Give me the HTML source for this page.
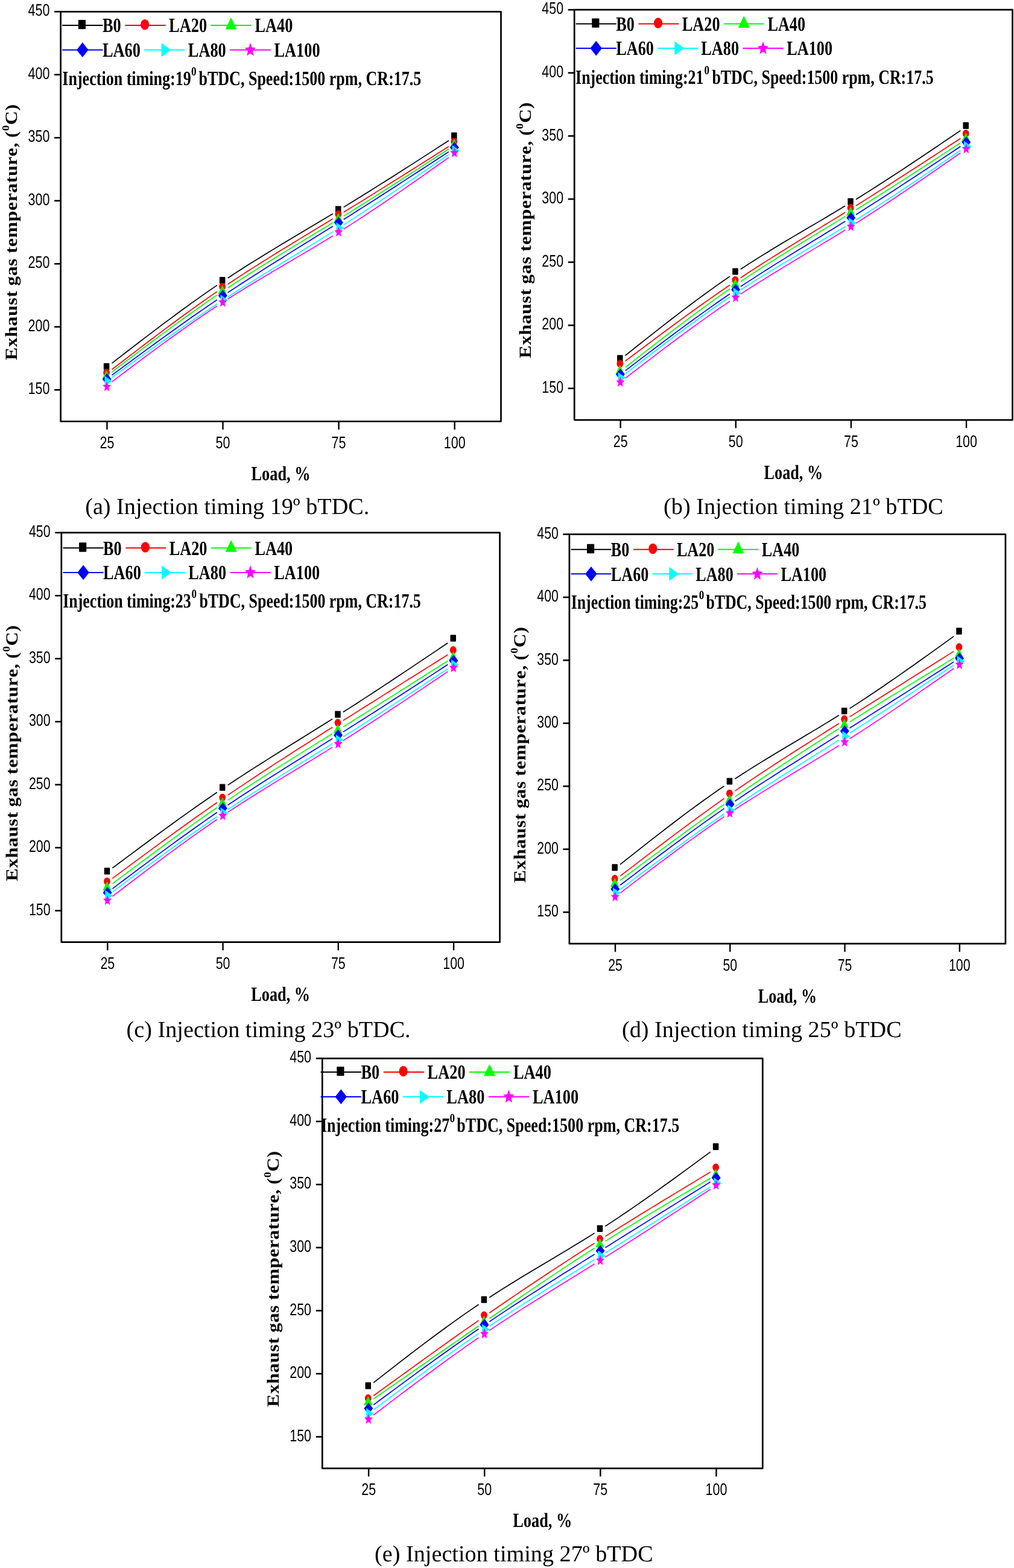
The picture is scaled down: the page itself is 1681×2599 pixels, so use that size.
<!DOCTYPE html>
<html lang="en"><head><meta charset="utf-8"><title>Exhaust gas temperature vs load</title>
<style>html,body{margin:0;padding:0;background:#fff;width:1681px;height:2599px;overflow:hidden}svg{display:block}text{fill:#000;font-kerning:none;font-variant-ligatures:none;text-rendering:geometricPrecision}</style></head>
<body>
<svg width="1681" height="2599" viewBox="0 0 1681 2599">
<rect width="1681" height="2599" fill="#fff"/>
<g id="chart-a">
<rect x="100.6" y="19.3" width="729.9" height="679.2" fill="none" stroke="#000" stroke-width="2.7" stroke-linejoin="round"/>
<line x1="90.1" y1="646.25" x2="100.6" y2="646.25" stroke="#000" stroke-width="2.6"/><text transform="translate(82.4 653.35) scale(0.7720 1)" font-family='"Liberation Sans", sans-serif' font-size="27.9" text-anchor="end">150</text>
<line x1="90.1" y1="541.76" x2="100.6" y2="541.76" stroke="#000" stroke-width="2.6"/><text transform="translate(82.4 548.86) scale(0.7720 1)" font-family='"Liberation Sans", sans-serif' font-size="27.9" text-anchor="end">200</text>
<line x1="90.1" y1="437.27" x2="100.6" y2="437.27" stroke="#000" stroke-width="2.6"/><text transform="translate(82.4 444.37) scale(0.7720 1)" font-family='"Liberation Sans", sans-serif' font-size="27.9" text-anchor="end">250</text>
<line x1="90.1" y1="332.78" x2="100.6" y2="332.78" stroke="#000" stroke-width="2.6"/><text transform="translate(82.4 339.88) scale(0.7720 1)" font-family='"Liberation Sans", sans-serif' font-size="27.9" text-anchor="end">300</text>
<line x1="90.1" y1="228.28" x2="100.6" y2="228.28" stroke="#000" stroke-width="2.6"/><text transform="translate(82.4 235.38) scale(0.7720 1)" font-family='"Liberation Sans", sans-serif' font-size="27.9" text-anchor="end">350</text>
<line x1="90.1" y1="123.79" x2="100.6" y2="123.79" stroke="#000" stroke-width="2.6"/><text transform="translate(82.4 130.89) scale(0.7720 1)" font-family='"Liberation Sans", sans-serif' font-size="27.9" text-anchor="end">400</text>
<line x1="90.1" y1="19.3" x2="100.6" y2="19.3" stroke="#000" stroke-width="2.6"/><text transform="translate(82.4 26.4) scale(0.7720 1)" font-family='"Liberation Sans", sans-serif' font-size="27.9" text-anchor="end">450</text>
<line x1="177.43" y1="698.5" x2="177.43" y2="712" stroke="#000" stroke-width="2.4"/><text transform="translate(177.43 743) scale(0.7720 1)" font-family='"Liberation Sans", sans-serif' font-size="27.9" text-anchor="middle">25</text>
<line x1="369.51" y1="698.5" x2="369.51" y2="712" stroke="#000" stroke-width="2.4"/><text transform="translate(369.51 743) scale(0.7720 1)" font-family='"Liberation Sans", sans-serif' font-size="27.9" text-anchor="middle">50</text>
<line x1="561.59" y1="698.5" x2="561.59" y2="712" stroke="#000" stroke-width="2.4"/><text transform="translate(561.59 743) scale(0.7720 1)" font-family='"Liberation Sans", sans-serif' font-size="27.9" text-anchor="middle">75</text>
<line x1="753.67" y1="698.5" x2="753.67" y2="712" stroke="#000" stroke-width="2.4"/><text transform="translate(753.67 743) scale(0.7720 1)" font-family='"Liberation Sans", sans-serif' font-size="27.9" text-anchor="middle">100</text>
<text transform="translate(465.55 796.1) scale(0.7870 1)" font-family='"Liberation Serif", serif' font-size="33.5" font-weight="bold" text-anchor="middle">Load, %</text>
<text transform="translate(28 596.9) rotate(-90) scale(1 0.8850)" font-family='"Liberation Serif", serif' font-size="31.8" font-weight="bold" letter-spacing="0.55" word-spacing="-0.6">Exhaust gas temperature, (<tspan font-size="19.08" dy="-14.63">0</tspan><tspan dy="14.63">C)</tspan></text>
<polyline points="185.48,602.11 196.37,593.67 207.27,585.26 218.16,576.86 229.05,568.49 239.94,560.15 250.84,551.86 261.73,543.62 272.62,535.43 283.51,527.31 294.41,519.26 305.3,511.28 316.19,503.4 327.08,495.61 337.98,487.91 348.87,480.33 359.76,472.86" fill="none" stroke="#000000" stroke-width="1.7"/>
<polyline points="377.56,460.92 388.45,453.78 399.35,446.74 410.24,439.8 421.13,432.96 432.02,426.19 442.92,419.5 453.81,412.86 464.7,406.28 475.59,399.73 486.48,393.21 497.38,386.72 508.27,380.23 519.16,373.74 530.05,367.25 540.95,360.73 551.84,354.18" fill="none" stroke="#000000" stroke-width="1.7"/>
<polyline points="569.64,343.39 580.53,336.72 591.42,330.01 602.32,323.26 613.21,316.48 624.1,309.65 634.99,302.8 645.89,295.91 656.78,289 667.67,282.06 678.56,275.1 689.46,268.12 700.35,261.13 711.24,254.12 722.13,247.1 733.03,240.08 743.92,233.05" fill="none" stroke="#000000" stroke-width="1.7"/>
<polyline points="185.48,612.54 196.37,604.16 207.27,595.79 218.16,587.43 229.05,579.1 239.94,570.8 250.84,562.54 261.73,554.32 272.62,546.15 283.51,538.04 294.41,529.99 305.3,522.01 316.19,514.11 327.08,506.29 337.98,498.55 348.87,490.92 359.76,483.38" fill="none" stroke="#ff0000" stroke-width="1.7"/>
<polyline points="377.56,471.3 388.45,464.04 399.35,456.89 410.24,449.83 421.13,442.85 432.02,435.94 442.92,429.1 453.81,422.32 464.7,415.59 475.59,408.91 486.48,402.25 497.38,395.63 508.27,389.02 519.16,382.42 530.05,375.83 540.95,369.23 551.84,362.62" fill="none" stroke="#ff0000" stroke-width="1.7"/>
<polyline points="569.64,351.76 580.53,345.09 591.42,338.39 602.32,331.66 613.21,324.91 624.1,318.15 634.99,311.36 645.89,304.56 656.78,297.74 667.67,290.91 678.56,284.06 689.46,277.21 700.35,270.34 711.24,263.47 722.13,256.59 733.03,249.71 743.92,242.83" fill="none" stroke="#ff0000" stroke-width="1.7"/>
<polyline points="185.48,616.63 196.37,608.36 207.27,600.09 218.16,591.85 229.05,583.62 239.94,575.43 250.84,567.27 261.73,559.16 272.62,551.1 283.51,543.09 294.41,535.14 305.3,527.26 316.19,519.46 327.08,511.73 337.98,504.09 348.87,496.55 359.76,489.1" fill="none" stroke="#00ff00" stroke-width="1.7"/>
<polyline points="377.56,477.17 388.45,470 399.35,462.93 410.24,455.95 421.13,449.04 432.02,442.2 442.92,435.42 453.81,428.7 464.7,422.02 475.59,415.37 486.48,408.74 497.38,402.14 508.27,395.54 519.16,388.94 530.05,382.34 540.95,375.71 551.84,369.06" fill="none" stroke="#00ff00" stroke-width="1.7"/>
<polyline points="569.64,358.11 580.53,351.36 591.42,344.57 602.32,337.75 613.21,330.89 624.1,324 634.99,317.08 645.89,310.14 656.78,303.17 667.67,296.18 678.56,289.18 689.46,282.15 700.35,275.12 711.24,268.07 722.13,261.01 733.03,253.95 743.92,246.88" fill="none" stroke="#00ff00" stroke-width="1.7"/>
<polyline points="185.48,621.93 196.37,613.89 207.27,605.85 218.16,597.83 229.05,589.83 239.94,581.86 250.84,573.91 261.73,565.99 272.62,558.11 283.51,550.27 294.41,542.48 305.3,534.74 316.19,527.06 327.08,519.44 337.98,511.89 348.87,504.4 359.76,496.99" fill="none" stroke="#0000ff" stroke-width="1.7"/>
<polyline points="377.56,485.06 388.45,477.87 399.35,470.74 410.24,463.68 421.13,456.69 432.02,449.74 442.92,442.84 453.81,435.98 464.7,429.16 475.59,422.36 486.48,415.58 497.38,408.82 508.27,402.06 519.16,395.3 530.05,388.54 540.95,381.76 551.84,374.97" fill="none" stroke="#0000ff" stroke-width="1.7"/>
<polyline points="569.64,363.81 580.53,356.94 591.42,350.05 602.32,343.13 613.21,336.18 624.1,329.22 634.99,322.23 645.89,315.22 656.78,308.2 667.67,301.16 678.56,294.11 689.46,287.04 700.35,279.97 711.24,272.88 722.13,265.79 733.03,258.7 743.92,251.6" fill="none" stroke="#0000ff" stroke-width="1.7"/>
<polyline points="185.48,625.78 196.37,617.92 207.27,610.07 218.16,602.24 229.05,594.42 239.94,586.63 250.84,578.86 261.73,571.13 272.62,563.44 283.51,555.78 294.41,548.18 305.3,540.63 316.19,533.14 327.08,525.71 337.98,518.34 348.87,511.05 359.76,503.83" fill="none" stroke="#00ffff" stroke-width="1.7"/>
<polyline points="377.56,492.22 388.45,485.22 399.35,478.29 410.24,471.42 421.13,464.6 432.02,457.83 442.92,451.1 453.81,444.39 464.7,437.71 475.59,431.03 486.48,424.36 497.38,417.68 508.27,410.99 519.16,404.28 530.05,397.54 540.95,390.75 551.84,383.92" fill="none" stroke="#00ffff" stroke-width="1.7"/>
<polyline points="569.64,372.64 580.53,365.65 591.42,358.61 602.32,351.51 613.21,344.37 624.1,337.18 634.99,329.95 645.89,322.68 656.78,315.37 667.67,308.04 678.56,300.67 689.46,293.28 700.35,285.87 711.24,278.44 722.13,271 733.03,263.55 743.92,256.1" fill="none" stroke="#00ffff" stroke-width="1.7"/>
<polyline points="185.48,632.88 196.37,624.66 207.27,616.45 218.16,608.26 229.05,600.11 239.94,591.98 250.84,583.91 261.73,575.88 272.62,567.91 283.51,560.01 294.41,552.19 305.3,544.44 316.19,536.79 327.08,529.23 337.98,521.77 348.87,514.43 359.76,507.21" fill="none" stroke="#ff00ff" stroke-width="1.7"/>
<polyline points="377.56,495.68 388.45,488.79 399.35,482 410.24,475.31 421.13,468.71 432.02,462.17 442.92,455.69 453.81,449.24 464.7,442.83 475.59,436.43 486.48,430.03 497.38,423.62 508.27,417.19 519.16,410.71 530.05,404.19 540.95,397.59 551.84,390.92" fill="none" stroke="#ff00ff" stroke-width="1.7"/>
<polyline points="569.64,379.81 580.53,372.88 591.42,365.86 602.32,358.76 613.21,351.57 624.1,344.3 634.99,336.97 645.89,329.57 656.78,322.11 667.67,314.61 678.56,307.05 689.46,299.46 700.35,291.83 711.24,284.18 722.13,276.5 733.03,268.81 743.92,261.1" fill="none" stroke="#ff00ff" stroke-width="1.7"/>
<rect x="171.83" y="601.9" width="9.5" height="11.2" rx="0.8" fill="#000000"/>
<rect x="363.91" y="459.1" width="9.5" height="11.2" rx="0.8" fill="#000000"/>
<rect x="555.99" y="341.4" width="9.5" height="11.2" rx="0.8" fill="#000000"/>
<rect x="748.07" y="219.4" width="9.5" height="11.2" rx="0.8" fill="#000000"/>
<ellipse cx="176.58" cy="617.7" rx="5.4" ry="6.5" fill="#ff0000"/>
<ellipse cx="368.66" cy="475.2" rx="5.4" ry="6.5" fill="#ff0000"/>
<ellipse cx="560.74" cy="355.1" rx="5.4" ry="6.5" fill="#ff0000"/>
<ellipse cx="752.82" cy="234.9" rx="5.4" ry="6.5" fill="#ff0000"/>
<polygon points="176.58,613.5 183.83,628.5 169.33,628.5" fill="#00ff00"/>
<polygon points="368.66,472.6 375.91,487.6 361.41,487.6" fill="#00ff00"/>
<polygon points="560.74,353 567.99,368 553.49,368" fill="#00ff00"/>
<polygon points="752.82,230 760.07,245 745.57,245" fill="#00ff00"/>
<polygon points="177.18,618.9 184.68,628.4 177.18,637.9 169.68,628.4" fill="#0000ff"/>
<polygon points="369.26,480.5 376.76,490 369.26,499.5 361.76,490" fill="#0000ff"/>
<polygon points="561.34,359.4 568.84,368.9 561.34,378.4 553.84,368.9" fill="#0000ff"/>
<polygon points="753.42,235 760.92,244.5 753.42,254 745.92,244.5" fill="#0000ff"/>
<polygon points="173.41,622.7 185.91,631.7 173.41,640.7" fill="#00ffff"/>
<polygon points="365.49,488.5 377.99,497.5 365.49,506.5" fill="#00ffff"/>
<polygon points="557.57,368.8 570.07,377.8 557.57,386.8" fill="#00ffff"/>
<polygon points="749.65,240.5 762.15,249.5 749.65,258.5" fill="#00ffff"/>
<polygon points="177.18,631.82 179.12,637.66 184.16,638.16 180.32,642.28 181.5,648.42 177.18,645.13 172.87,648.42 174.04,642.28 170.2,638.16 175.24,637.66" fill="#ff00ff"/>
<polygon points="369.26,491.92 371.2,497.76 376.24,498.26 372.4,502.38 373.58,508.52 369.26,505.23 364.95,508.52 366.12,502.38 362.28,498.26 367.32,497.76" fill="#ff00ff"/>
<polygon points="561.34,375.52 563.28,381.36 568.32,381.86 564.48,385.98 565.65,392.12 561.34,388.83 557.02,392.12 558.2,385.98 554.36,381.86 559.4,381.36" fill="#ff00ff"/>
<polygon points="753.42,244.22 755.36,250.06 760.4,250.56 756.56,254.68 757.73,260.82 753.42,257.53 749.1,260.82 750.28,254.68 746.44,250.56 751.48,250.06" fill="#ff00ff"/>
<line x1="103.1" y1="42" x2="170.5" y2="42" stroke="#000000" stroke-width="2"/><rect x="129.8" y="33.05" width="12.2" height="15.3" rx="0.8" fill="#000000"/><text transform="translate(170 53.2) scale(0.7870 1)" font-family='"Liberation Serif", serif' font-size="33.5" font-weight="bold" text-anchor="start">B0</text>
<line x1="207.3" y1="42" x2="274.7" y2="42" stroke="#ff0000" stroke-width="2"/><ellipse cx="240.1" cy="40.7" rx="7.1" ry="8.8" fill="#ff0000"/><text transform="translate(280.1 53.2) scale(0.7870 1)" font-family='"Liberation Serif", serif' font-size="33.5" font-weight="bold" text-anchor="start">LA20</text>
<line x1="349.3" y1="42" x2="416.7" y2="42" stroke="#00ff00" stroke-width="2"/><polygon points="383,28.93 392.5,48.53 373.5,48.53" fill="#00ff00"/><text transform="translate(422.4 53.2) scale(0.7870 1)" font-family='"Liberation Serif", serif' font-size="33.5" font-weight="bold" text-anchor="start">LA40</text>
<line x1="103.1" y1="82.65" x2="170.5" y2="82.65" stroke="#0000ff" stroke-width="2"/><polygon points="136.8,70.25 146.6,82.65 136.8,95.05 127,82.65" fill="#0000ff"/><text transform="translate(170 93.85) scale(0.7870 1)" font-family='"Liberation Serif", serif' font-size="33.5" font-weight="bold" text-anchor="start">LA60</text>
<line x1="239.1" y1="82.65" x2="306.5" y2="82.65" stroke="#00ffff" stroke-width="2"/><polygon points="267.47,71.15 283.47,82.65 267.47,94.15" fill="#00ffff"/><text transform="translate(311.8 93.85) scale(0.7870 1)" font-family='"Liberation Serif", serif' font-size="33.5" font-weight="bold" text-anchor="start">LA80</text>
<line x1="381.2" y1="82.65" x2="448.6" y2="82.65" stroke="#ff00ff" stroke-width="2"/><polygon points="414.9,71.02 417.4,78.54 423.9,79.19 418.95,84.5 420.46,92.42 414.9,88.17 409.34,92.42 410.85,84.5 405.9,79.19 412.4,78.54" fill="#ff00ff"/><text transform="translate(454.4 93.85) scale(0.7870 1)" font-family='"Liberation Serif", serif' font-size="33.5" font-weight="bold" text-anchor="start">LA100</text>
<text transform="translate(103.3 140.9) scale(0.7775 1)" font-family='"Liberation Serif", serif' font-size="33.5" font-weight="bold" text-anchor="start">Injection timing:19</text>
<text transform="translate(317 125.4) scale(0.8397 1)" font-family='"Liberation Serif", serif' font-size="20.5" font-weight="bold" text-anchor="start">0</text>
<text transform="translate(329.4 140.9) scale(0.7775 1)" font-family='"Liberation Serif", serif' font-size="33.5" font-weight="bold" text-anchor="start">bTDC, Speed:1500 rpm, CR:17.5</text>
<text x="141.2" y="852.3" font-family='"Liberation Serif", serif' font-size="38.2">(a) Injection timing 19º bTDC.</text>
</g>
<g id="chart-b">
<rect x="952.2" y="16.2" width="726.3" height="679.9" fill="none" stroke="#000" stroke-width="2.7" stroke-linejoin="round"/>
<line x1="941.7" y1="643.8" x2="952.2" y2="643.8" stroke="#000" stroke-width="2.6"/><text transform="translate(934.09 650.9) scale(0.7682 1)" font-family='"Liberation Sans", sans-serif' font-size="27.9" text-anchor="end">150</text>
<line x1="941.7" y1="539.2" x2="952.2" y2="539.2" stroke="#000" stroke-width="2.6"/><text transform="translate(934.09 546.3) scale(0.7682 1)" font-family='"Liberation Sans", sans-serif' font-size="27.9" text-anchor="end">200</text>
<line x1="941.7" y1="434.6" x2="952.2" y2="434.6" stroke="#000" stroke-width="2.6"/><text transform="translate(934.09 441.7) scale(0.7682 1)" font-family='"Liberation Sans", sans-serif' font-size="27.9" text-anchor="end">250</text>
<line x1="941.7" y1="330" x2="952.2" y2="330" stroke="#000" stroke-width="2.6"/><text transform="translate(934.09 337.1) scale(0.7682 1)" font-family='"Liberation Sans", sans-serif' font-size="27.9" text-anchor="end">300</text>
<line x1="941.7" y1="225.4" x2="952.2" y2="225.4" stroke="#000" stroke-width="2.6"/><text transform="translate(934.09 232.5) scale(0.7682 1)" font-family='"Liberation Sans", sans-serif' font-size="27.9" text-anchor="end">350</text>
<line x1="941.7" y1="120.8" x2="952.2" y2="120.8" stroke="#000" stroke-width="2.6"/><text transform="translate(934.09 127.9) scale(0.7682 1)" font-family='"Liberation Sans", sans-serif' font-size="27.9" text-anchor="end">400</text>
<line x1="941.7" y1="16.2" x2="952.2" y2="16.2" stroke="#000" stroke-width="2.6"/><text transform="translate(934.09 23.3) scale(0.7682 1)" font-family='"Liberation Sans", sans-serif' font-size="27.9" text-anchor="end">450</text>
<line x1="1028.65" y1="696.1" x2="1028.65" y2="709.6" stroke="#000" stroke-width="2.4"/><text transform="translate(1028.65 740.6) scale(0.7682 1)" font-family='"Liberation Sans", sans-serif' font-size="27.9" text-anchor="middle">25</text>
<line x1="1219.78" y1="696.1" x2="1219.78" y2="709.6" stroke="#000" stroke-width="2.4"/><text transform="translate(1219.78 740.6) scale(0.7682 1)" font-family='"Liberation Sans", sans-serif' font-size="27.9" text-anchor="middle">50</text>
<line x1="1410.92" y1="696.1" x2="1410.92" y2="709.6" stroke="#000" stroke-width="2.4"/><text transform="translate(1410.92 740.6) scale(0.7682 1)" font-family='"Liberation Sans", sans-serif' font-size="27.9" text-anchor="middle">75</text>
<line x1="1602.05" y1="696.1" x2="1602.05" y2="709.6" stroke="#000" stroke-width="2.4"/><text transform="translate(1602.05 740.6) scale(0.7682 1)" font-family='"Liberation Sans", sans-serif' font-size="27.9" text-anchor="middle">100</text>
<text transform="translate(1315.35 793.7) scale(0.7831 1)" font-family='"Liberation Serif", serif' font-size="33.5" font-weight="bold" text-anchor="middle">Load, %</text>
<text transform="translate(879.6 593.8) rotate(-90) scale(1 0.8850)" font-family='"Liberation Serif", serif' font-size="31.8" font-weight="bold" letter-spacing="0.55" word-spacing="-0.6">Exhaust gas temperature, (<tspan font-size="19.08" dy="-14.63">0</tspan><tspan dy="14.63">C)</tspan></text>
<polyline points="1036.7,589.21 1047.54,580.59 1058.37,571.98 1069.2,563.4 1080.04,554.85 1090.87,546.34 1101.7,537.88 1112.54,529.49 1123.37,521.17 1134.2,512.92 1145.03,504.76 1155.87,496.69 1166.7,488.73 1177.53,480.88 1188.37,473.16 1199.2,465.57 1210.03,458.11" fill="none" stroke="#000000" stroke-width="1.7"/>
<polyline points="1227.83,446.19 1238.67,439.13 1249.5,432.2 1260.33,425.38 1271.17,418.68 1282,412.06 1292.83,405.51 1303.67,399.03 1314.5,392.61 1325.33,386.21 1336.17,379.84 1347,373.48 1357.83,367.11 1368.67,360.72 1379.5,354.3 1390.33,347.84 1401.17,341.31" fill="none" stroke="#000000" stroke-width="1.7"/>
<polyline points="1418.97,330.43 1429.8,323.7 1440.63,316.89 1451.47,310.02 1462.3,303.08 1473.13,296.07 1483.97,289.01 1494.8,281.9 1505.63,274.74 1516.46,267.54 1527.3,260.3 1538.13,253.03 1548.96,245.73 1559.8,238.41 1570.63,231.07 1581.46,223.71 1592.3,216.35" fill="none" stroke="#000000" stroke-width="1.7"/>
<polyline points="1036.7,598.4 1047.54,590.25 1058.37,582.11 1069.2,573.98 1080.04,565.88 1090.87,557.8 1101.7,549.76 1112.54,541.75 1123.37,533.79 1134.2,525.89 1145.03,518.03 1155.87,510.24 1166.7,502.52 1177.53,494.87 1188.37,487.29 1199.2,479.8 1210.03,472.41" fill="none" stroke="#ff0000" stroke-width="1.7"/>
<polyline points="1227.83,460.46 1238.67,453.32 1249.5,446.26 1260.33,439.28 1271.17,432.36 1282,425.52 1292.83,418.72 1303.67,411.97 1314.5,405.26 1325.33,398.59 1336.17,391.93 1347,385.29 1357.83,378.65 1368.67,372.02 1379.5,365.37 1390.33,358.71 1401.17,352.02" fill="none" stroke="#ff0000" stroke-width="1.7"/>
<polyline points="1418.97,340.96 1429.8,334.17 1440.63,327.35 1451.47,320.5 1462.3,313.62 1473.13,306.71 1483.97,299.77 1494.8,292.8 1505.63,285.82 1516.46,278.82 1527.3,271.79 1538.13,264.76 1548.96,257.71 1559.8,250.64 1570.63,243.57 1581.46,236.5 1592.3,229.42" fill="none" stroke="#ff0000" stroke-width="1.7"/>
<polyline points="1036.7,608.83 1047.54,600.34 1058.37,591.87 1069.2,583.42 1080.04,575 1090.87,566.61 1101.7,558.27 1112.54,549.97 1123.37,541.73 1134.2,533.56 1145.03,525.45 1155.87,517.42 1166.7,509.48 1177.53,501.63 1188.37,493.87 1199.2,486.23 1210.03,478.7" fill="none" stroke="#00ff00" stroke-width="1.7"/>
<polyline points="1227.83,466.59 1238.67,459.37 1249.5,452.27 1260.33,445.27 1271.17,438.35 1282,431.52 1292.83,424.75 1303.67,418.05 1314.5,411.39 1325.33,404.77 1336.17,398.19 1347,391.62 1357.83,385.07 1368.67,378.51 1379.5,371.95 1390.33,365.37 1401.17,358.76" fill="none" stroke="#00ff00" stroke-width="1.7"/>
<polyline points="1418.97,347.81 1429.8,341.09 1440.63,334.32 1451.47,327.52 1462.3,320.68 1473.13,313.81 1483.97,306.9 1494.8,299.97 1505.63,293.01 1516.46,286.02 1527.3,279.02 1538.13,272 1548.96,264.96 1559.8,257.91 1570.63,250.85 1581.46,243.78 1592.3,236.71" fill="none" stroke="#00ff00" stroke-width="1.7"/>
<polyline points="1036.7,614.4 1047.54,606.13 1058.37,597.88 1069.2,589.64 1080.04,581.42 1090.87,573.24 1101.7,565.09 1112.54,556.99 1123.37,548.93 1134.2,540.93 1145.03,533 1155.87,525.13 1166.7,517.33 1177.53,509.62 1188.37,501.99 1199.2,494.46 1210.03,487.03" fill="none" stroke="#0000ff" stroke-width="1.7"/>
<polyline points="1227.83,475.05 1238.67,467.89 1249.5,460.84 1260.33,453.86 1271.17,446.97 1282,440.14 1292.83,433.37 1303.67,426.65 1314.5,419.96 1325.33,413.31 1336.17,406.68 1347,400.06 1357.83,393.45 1368.67,386.83 1379.5,380.19 1390.33,373.53 1401.17,366.83" fill="none" stroke="#0000ff" stroke-width="1.7"/>
<polyline points="1418.97,355.73 1429.8,348.92 1440.63,342.05 1451.47,335.15 1462.3,328.2 1473.13,321.22 1483.97,314.2 1494.8,307.16 1505.63,300.08 1516.46,292.98 1527.3,285.86 1538.13,278.72 1548.96,271.56 1559.8,264.39 1570.63,257.2 1581.46,250.01 1592.3,242.81" fill="none" stroke="#0000ff" stroke-width="1.7"/>
<polyline points="1036.7,619.74 1047.54,611.39 1058.37,603.06 1069.2,594.74 1080.04,586.46 1090.87,578.22 1101.7,570.02 1112.54,561.87 1123.37,553.79 1134.2,545.77 1145.03,537.83 1155.87,529.97 1166.7,522.21 1177.53,514.54 1188.37,506.98 1199.2,499.54 1210.03,492.22" fill="none" stroke="#00ffff" stroke-width="1.7"/>
<polyline points="1227.83,480.47 1238.67,473.5 1249.5,466.63 1260.33,459.87 1271.17,453.2 1282,446.6 1292.83,440.06 1303.67,433.58 1314.5,427.14 1325.33,420.72 1336.17,414.32 1347,407.91 1357.83,401.5 1368.67,395.06 1379.5,388.58 1390.33,382.05 1401.17,375.47" fill="none" stroke="#00ffff" stroke-width="1.7"/>
<polyline points="1418.97,364.48 1429.8,357.68 1440.63,350.81 1451.47,343.87 1462.3,336.86 1473.13,329.79 1483.97,322.66 1494.8,315.48 1505.63,308.25 1516.46,300.98 1527.3,293.67 1538.13,286.33 1548.96,278.96 1559.8,271.57 1570.63,264.16 1581.46,256.74 1592.3,249.31" fill="none" stroke="#00ffff" stroke-width="1.7"/>
<polyline points="1036.7,626.85 1047.54,618.51 1058.37,610.19 1069.2,601.89 1080.04,593.61 1090.87,585.37 1101.7,577.18 1112.54,569.04 1123.37,560.95 1134.2,552.93 1145.03,544.98 1155.87,537.12 1166.7,529.34 1177.53,521.65 1188.37,514.07 1199.2,506.6 1210.03,499.25" fill="none" stroke="#ff00ff" stroke-width="1.7"/>
<polyline points="1227.83,487.44 1238.67,480.41 1249.5,473.5 1260.33,466.68 1271.17,459.94 1282,453.28 1292.83,446.68 1303.67,440.12 1314.5,433.6 1325.33,427.1 1336.17,420.62 1347,414.13 1357.83,407.63 1368.67,401.1 1379.5,394.54 1390.33,387.92 1401.17,381.24" fill="none" stroke="#ff00ff" stroke-width="1.7"/>
<polyline points="1418.97,370.1 1429.8,363.22 1440.63,356.25 1451.47,349.22 1462.3,342.12 1473.13,334.96 1483.97,327.74 1494.8,320.47 1505.63,313.15 1516.46,305.79 1527.3,298.39 1538.13,290.96 1548.96,283.5 1559.8,276.02 1570.63,268.52 1581.46,261.01 1592.3,253.48" fill="none" stroke="#ff00ff" stroke-width="1.7"/>
<rect x="1023.05" y="588.5" width="9.5" height="11.2" rx="0.8" fill="#000000"/>
<rect x="1214.18" y="444.4" width="9.5" height="11.2" rx="0.8" fill="#000000"/>
<rect x="1405.32" y="328.6" width="9.5" height="11.2" rx="0.8" fill="#000000"/>
<rect x="1596.45" y="202.5" width="9.5" height="11.2" rx="0.8" fill="#000000"/>
<ellipse cx="1027.8" cy="603" rx="5.4" ry="6.5" fill="#ff0000"/>
<ellipse cx="1218.93" cy="464.2" rx="5.4" ry="6.5" fill="#ff0000"/>
<ellipse cx="1410.07" cy="344.5" rx="5.4" ry="6.5" fill="#ff0000"/>
<ellipse cx="1601.2" cy="221.4" rx="5.4" ry="6.5" fill="#ff0000"/>
<polygon points="1027.8,605 1035.05,620 1020.55,620" fill="#00ff00"/>
<polygon points="1218.93,461.6 1226.18,476.6 1211.68,476.6" fill="#00ff00"/>
<polygon points="1410.07,342.5 1417.32,357.5 1402.82,357.5" fill="#00ff00"/>
<polygon points="1601.2,219.9 1608.45,234.9 1593.95,234.9" fill="#00ff00"/>
<polygon points="1028.4,611.1 1035.9,620.6 1028.4,630.1 1020.9,620.6" fill="#0000ff"/>
<polygon points="1219.53,470.5 1227.03,480 1219.53,489.5 1212.03,480" fill="#0000ff"/>
<polygon points="1410.67,351.4 1418.17,360.9 1410.67,370.4 1403.17,360.9" fill="#0000ff"/>
<polygon points="1601.8,226.2 1609.3,235.7 1601.8,245.2 1594.3,235.7" fill="#0000ff"/>
<polygon points="1024.64,617.1 1037.14,626.1 1024.64,635.1" fill="#00ffff"/>
<polygon points="1215.77,476.8 1228.27,485.8 1215.77,494.8" fill="#00ffff"/>
<polygon points="1406.9,360.5 1419.4,369.5 1406.9,378.5" fill="#00ffff"/>
<polygon points="1598.03,233.7 1610.53,242.7 1598.03,251.7" fill="#00ffff"/>
<polygon points="1028.4,624.42 1030.34,630.26 1035.38,630.76 1031.54,634.88 1032.72,641.02 1028.4,637.73 1024.09,641.02 1025.26,634.88 1021.42,630.76 1026.46,630.26" fill="#ff00ff"/>
<polygon points="1219.53,484.02 1221.48,489.86 1226.52,490.36 1222.68,494.48 1223.85,500.62 1219.53,497.33 1215.22,500.62 1216.39,494.48 1212.55,490.36 1217.59,489.86" fill="#ff00ff"/>
<polygon points="1410.67,366.52 1412.61,372.36 1417.65,372.86 1413.81,376.98 1414.98,383.12 1410.67,379.83 1406.35,383.12 1407.52,376.98 1403.68,372.86 1408.72,372.36" fill="#ff00ff"/>
<polygon points="1601.8,237.72 1603.74,243.56 1608.78,244.06 1604.94,248.18 1606.11,254.32 1601.8,251.03 1597.48,254.32 1598.66,248.18 1594.82,244.06 1599.86,243.56" fill="#ff00ff"/>
<line x1="954.7" y1="39.4" x2="1021.77" y2="39.4" stroke="#000000" stroke-width="2"/><rect x="981.24" y="30.45" width="12.2" height="15.3" rx="0.8" fill="#000000"/><text transform="translate(1021.27 50.6) scale(0.7831 1)" font-family='"Liberation Serif", serif' font-size="33.5" font-weight="bold" text-anchor="start">B0</text>
<line x1="1058.39" y1="39.4" x2="1125.45" y2="39.4" stroke="#ff0000" stroke-width="2"/><ellipse cx="1091.02" cy="38.1" rx="7.1" ry="8.8" fill="#ff0000"/><text transform="translate(1130.82 50.6) scale(0.7831 1)" font-family='"Liberation Serif", serif' font-size="33.5" font-weight="bold" text-anchor="start">LA20</text>
<line x1="1199.69" y1="39.4" x2="1266.75" y2="39.4" stroke="#00ff00" stroke-width="2"/><polygon points="1233.22,26.33 1242.72,45.93 1223.72,45.93" fill="#00ff00"/><text transform="translate(1272.42 50.6) scale(0.7831 1)" font-family='"Liberation Serif", serif' font-size="33.5" font-weight="bold" text-anchor="start">LA40</text>
<line x1="954.7" y1="80.1" x2="1021.77" y2="80.1" stroke="#0000ff" stroke-width="2"/><polygon points="988.23,67.7 998.03,80.1 988.23,92.5 978.43,80.1" fill="#0000ff"/><text transform="translate(1021.27 91.3) scale(0.7831 1)" font-family='"Liberation Serif", serif' font-size="33.5" font-weight="bold" text-anchor="start">LA60</text>
<line x1="1090.03" y1="80.1" x2="1157.1" y2="80.1" stroke="#00ffff" stroke-width="2"/><polygon points="1118.23,68.6 1134.23,80.1 1118.23,91.6" fill="#00ffff"/><text transform="translate(1162.37 91.3) scale(0.7831 1)" font-family='"Liberation Serif", serif' font-size="33.5" font-weight="bold" text-anchor="start">LA80</text>
<line x1="1231.43" y1="80.1" x2="1298.5" y2="80.1" stroke="#ff00ff" stroke-width="2"/><polygon points="1264.96,68.47 1267.47,75.99 1273.96,76.64 1269.01,81.95 1270.52,89.87 1264.96,85.62 1259.4,89.87 1260.91,81.95 1255.96,76.64 1262.46,75.99" fill="#ff00ff"/><text transform="translate(1304.26 91.3) scale(0.7831 1)" font-family='"Liberation Serif", serif' font-size="33.5" font-weight="bold" text-anchor="start">LA100</text>
<text transform="translate(954.1 138.8) scale(0.7737 1)" font-family='"Liberation Serif", serif' font-size="33.5" font-weight="bold" text-anchor="start">Injection timing:21</text>
<text transform="translate(1167.4 123.3) scale(0.8356 1)" font-family='"Liberation Serif", serif' font-size="20.5" font-weight="bold" text-anchor="start">0</text>
<text transform="translate(1180.4 138.8) scale(0.7737 1)" font-family='"Liberation Serif", serif' font-size="33.5" font-weight="bold" text-anchor="start">bTDC, Speed:1500 rpm, CR:17.5</text>
<text x="1100.1" y="852.3" font-family='"Liberation Serif", serif' font-size="38.2">(b) Injection timing 21º bTDC</text>
</g>
<g id="chart-c">
<rect x="101.8" y="882.9" width="726.8" height="678.8" fill="none" stroke="#000" stroke-width="2.7" stroke-linejoin="round"/>
<line x1="91.3" y1="1509.48" x2="101.8" y2="1509.48" stroke="#000" stroke-width="2.6"/><text transform="translate(83.68 1516.58) scale(0.7687 1)" font-family='"Liberation Sans", sans-serif' font-size="27.9" text-anchor="end">150</text>
<line x1="91.3" y1="1405.05" x2="101.8" y2="1405.05" stroke="#000" stroke-width="2.6"/><text transform="translate(83.68 1412.15) scale(0.7687 1)" font-family='"Liberation Sans", sans-serif' font-size="27.9" text-anchor="end">200</text>
<line x1="91.3" y1="1300.62" x2="101.8" y2="1300.62" stroke="#000" stroke-width="2.6"/><text transform="translate(83.68 1307.72) scale(0.7687 1)" font-family='"Liberation Sans", sans-serif' font-size="27.9" text-anchor="end">250</text>
<line x1="91.3" y1="1196.19" x2="101.8" y2="1196.19" stroke="#000" stroke-width="2.6"/><text transform="translate(83.68 1203.29) scale(0.7687 1)" font-family='"Liberation Sans", sans-serif' font-size="27.9" text-anchor="end">300</text>
<line x1="91.3" y1="1091.76" x2="101.8" y2="1091.76" stroke="#000" stroke-width="2.6"/><text transform="translate(83.68 1098.86) scale(0.7687 1)" font-family='"Liberation Sans", sans-serif' font-size="27.9" text-anchor="end">350</text>
<line x1="91.3" y1="987.33" x2="101.8" y2="987.33" stroke="#000" stroke-width="2.6"/><text transform="translate(83.68 994.43) scale(0.7687 1)" font-family='"Liberation Sans", sans-serif' font-size="27.9" text-anchor="end">400</text>
<line x1="91.3" y1="882.9" x2="101.8" y2="882.9" stroke="#000" stroke-width="2.6"/><text transform="translate(83.68 890) scale(0.7687 1)" font-family='"Liberation Sans", sans-serif' font-size="27.9" text-anchor="end">450</text>
<line x1="178.31" y1="1561.7" x2="178.31" y2="1575.2" stroke="#000" stroke-width="2.4"/><text transform="translate(178.31 1606.2) scale(0.7687 1)" font-family='"Liberation Sans", sans-serif' font-size="27.9" text-anchor="middle">25</text>
<line x1="369.57" y1="1561.7" x2="369.57" y2="1575.2" stroke="#000" stroke-width="2.4"/><text transform="translate(369.57 1606.2) scale(0.7687 1)" font-family='"Liberation Sans", sans-serif' font-size="27.9" text-anchor="middle">50</text>
<line x1="560.83" y1="1561.7" x2="560.83" y2="1575.2" stroke="#000" stroke-width="2.4"/><text transform="translate(560.83 1606.2) scale(0.7687 1)" font-family='"Liberation Sans", sans-serif' font-size="27.9" text-anchor="middle">75</text>
<line x1="752.09" y1="1561.7" x2="752.09" y2="1575.2" stroke="#000" stroke-width="2.4"/><text transform="translate(752.09 1606.2) scale(0.7687 1)" font-family='"Liberation Sans", sans-serif' font-size="27.9" text-anchor="middle">100</text>
<text transform="translate(465.2 1659.3) scale(0.7837 1)" font-family='"Liberation Serif", serif' font-size="33.5" font-weight="bold" text-anchor="middle">Load, %</text>
<text transform="translate(29.2 1460.5) rotate(-90) scale(1 0.8850)" font-family='"Liberation Serif", serif' font-size="31.8" font-weight="bold" letter-spacing="0.55" word-spacing="-0.6">Exhaust gas temperature, (<tspan font-size="19.08" dy="-14.63">0</tspan><tspan dy="14.63">C)</tspan></text>
<polyline points="186.36,1438.84 197.2,1430.74 208.04,1422.65 218.88,1414.57 229.72,1406.51 240.56,1398.48 251.4,1390.48 262.25,1382.51 273.09,1374.59 283.93,1366.71 294.77,1358.88 305.61,1351.11 316.45,1343.41 327.29,1335.77 338.14,1328.2 348.98,1320.72 359.82,1313.31" fill="none" stroke="#000000" stroke-width="1.7"/>
<polyline points="377.62,1301.35 388.46,1294.18 399.3,1287.09 410.14,1280.07 420.98,1273.11 431.83,1266.21 442.67,1259.35 453.51,1252.54 464.35,1245.75 475.19,1238.99 486.03,1232.24 496.87,1225.5 507.72,1218.76 518.56,1212.01 529.4,1205.24 540.24,1198.45 551.08,1191.63" fill="none" stroke="#000000" stroke-width="1.7"/>
<polyline points="568.88,1180.34 579.72,1173.4 590.56,1166.42 601.41,1159.4 612.25,1152.35 623.09,1145.26 633.93,1138.14 644.77,1130.99 655.61,1123.81 666.45,1116.61 677.3,1109.39 688.14,1102.16 698.98,1094.9 709.82,1087.64 720.66,1080.36 731.5,1073.07 742.34,1065.79" fill="none" stroke="#000000" stroke-width="1.7"/>
<polyline points="186.36,1455.99 197.2,1447.94 208.04,1439.9 218.88,1431.87 229.72,1423.85 240.56,1415.86 251.4,1407.88 262.25,1399.93 273.09,1392.02 283.93,1384.13 294.77,1376.29 305.61,1368.49 316.45,1360.73 327.29,1353.02 338.14,1345.37 348.98,1337.77 359.82,1330.24" fill="none" stroke="#ff0000" stroke-width="1.7"/>
<polyline points="377.62,1318.01 388.46,1310.65 399.3,1303.35 410.14,1296.11 420.98,1288.92 431.83,1281.78 442.67,1274.69 453.51,1267.64 464.35,1260.63 475.19,1253.66 486.03,1246.72 496.87,1239.8 507.72,1232.91 518.56,1226.04 529.4,1219.18 540.24,1212.34 551.08,1205.51" fill="none" stroke="#ff0000" stroke-width="1.7"/>
<polyline points="568.88,1194.29 579.72,1187.47 590.56,1180.64 601.41,1173.82 612.25,1167 623.09,1160.18 633.93,1153.35 644.77,1146.54 655.61,1139.72 666.45,1132.9 677.3,1126.08 688.14,1119.27 698.98,1112.45 709.82,1105.64 720.66,1098.82 731.5,1092.01 742.34,1085.19" fill="none" stroke="#ff0000" stroke-width="1.7"/>
<polyline points="186.36,1464.82 197.2,1456.69 208.04,1448.56 218.88,1440.45 229.72,1432.36 240.56,1424.29 251.4,1416.25 262.25,1408.24 273.09,1400.28 283.93,1392.35 294.77,1384.47 305.61,1376.65 316.45,1368.88 327.29,1361.18 338.14,1353.54 348.98,1345.97 359.82,1338.49" fill="none" stroke="#00ff00" stroke-width="1.7"/>
<polyline points="377.62,1326.37 388.46,1319.1 399.3,1311.91 410.14,1304.78 420.98,1297.72 431.83,1290.72 442.67,1283.77 453.51,1276.87 464.35,1270.01 475.19,1263.19 486.03,1256.39 496.87,1249.62 507.72,1242.87 518.56,1236.13 529.4,1229.4 540.24,1222.67 551.08,1215.94" fill="none" stroke="#00ff00" stroke-width="1.7"/>
<polyline points="568.88,1204.85 579.72,1198.09 590.56,1191.31 601.41,1184.51 612.25,1177.71 623.09,1170.89 633.93,1164.07 644.77,1157.23 655.61,1150.39 666.45,1143.54 677.3,1136.68 688.14,1129.82 698.98,1122.95 709.82,1116.08 720.66,1109.2 731.5,1102.33 742.34,1095.45" fill="none" stroke="#00ff00" stroke-width="1.7"/>
<polyline points="186.36,1473.1 197.2,1464.94 208.04,1456.79 218.88,1448.65 229.72,1440.53 240.56,1432.44 251.4,1424.38 262.25,1416.36 273.09,1408.37 283.93,1400.43 294.77,1392.54 305.61,1384.71 316.45,1376.94 327.29,1369.23 338.14,1361.6 348.98,1354.04 359.82,1346.57" fill="none" stroke="#0000ff" stroke-width="1.7"/>
<polyline points="377.62,1334.49 388.46,1327.25 399.3,1320.08 410.14,1312.99 420.98,1305.96 431.83,1299 442.67,1292.08 453.51,1285.21 464.35,1278.38 475.19,1271.58 486.03,1264.8 496.87,1258.04 507.72,1251.29 518.56,1244.55 529.4,1237.8 540.24,1231.05 551.08,1224.28" fill="none" stroke="#0000ff" stroke-width="1.7"/>
<polyline points="568.88,1213.11 579.72,1206.27 590.56,1199.4 601.41,1192.51 612.25,1185.6 623.09,1178.67 633.93,1171.71 644.77,1164.74 655.61,1157.76 666.45,1150.76 677.3,1143.74 688.14,1136.72 698.98,1129.69 709.82,1122.65 720.66,1115.6 731.5,1108.55 742.34,1101.49" fill="none" stroke="#0000ff" stroke-width="1.7"/>
<polyline points="186.36,1478.39 197.2,1470.35 208.04,1462.32 218.88,1454.3 229.72,1446.3 240.56,1438.32 251.4,1430.38 262.25,1422.47 273.09,1414.6 283.93,1406.77 294.77,1399 305.61,1391.28 316.45,1383.62 327.29,1376.02 338.14,1368.5 348.98,1361.05 359.82,1353.68" fill="none" stroke="#00ffff" stroke-width="1.7"/>
<polyline points="377.62,1341.78 388.46,1334.64 399.3,1327.57 410.14,1320.58 420.98,1313.64 431.83,1306.77 442.67,1299.93 453.51,1293.14 464.35,1286.38 475.19,1279.65 486.03,1272.93 496.87,1266.22 507.72,1259.52 518.56,1252.81 529.4,1246.09 540.24,1239.35 551.08,1232.58" fill="none" stroke="#00ffff" stroke-width="1.7"/>
<polyline points="568.88,1221.39 579.72,1214.53 590.56,1207.63 601.41,1200.69 612.25,1193.72 623.09,1186.73 633.93,1179.7 644.77,1172.66 655.61,1165.59 666.45,1158.49 677.3,1151.39 688.14,1144.26 698.98,1137.12 709.82,1129.98 720.66,1122.82 731.5,1115.65 742.34,1108.49" fill="none" stroke="#00ffff" stroke-width="1.7"/>
<polyline points="186.36,1485.79 197.2,1477.5 208.04,1469.22 218.88,1460.96 229.72,1452.72 240.56,1444.52 251.4,1436.36 262.25,1428.24 273.09,1420.17 283.93,1412.16 294.77,1404.22 305.61,1396.35 316.45,1388.55 327.29,1380.85 338.14,1373.23 348.98,1365.71 359.82,1358.3" fill="none" stroke="#ff00ff" stroke-width="1.7"/>
<polyline points="377.62,1346.38 388.46,1339.26 399.3,1332.24 410.14,1325.31 420.98,1318.46 431.83,1311.67 442.67,1304.95 453.51,1298.27 464.35,1291.63 475.19,1285.01 486.03,1278.42 496.87,1271.83 507.72,1265.24 518.56,1258.64 529.4,1252.01 540.24,1245.35 551.08,1238.64" fill="none" stroke="#ff00ff" stroke-width="1.7"/>
<polyline points="568.88,1227.52 579.72,1220.66 590.56,1213.75 601.41,1206.78 612.25,1199.77 623.09,1192.72 633.93,1185.62 644.77,1178.48 655.61,1171.31 666.45,1164.1 677.3,1156.87 688.14,1149.62 698.98,1142.35 709.82,1135.05 720.66,1127.75 731.5,1120.43 742.34,1113.11" fill="none" stroke="#ff00ff" stroke-width="1.7"/>
<rect x="172.71" y="1438.3" width="9.5" height="11.2" rx="0.8" fill="#000000"/>
<rect x="363.97" y="1299.6" width="9.5" height="11.2" rx="0.8" fill="#000000"/>
<rect x="555.23" y="1178.5" width="9.5" height="11.2" rx="0.8" fill="#000000"/>
<rect x="746.49" y="1052.2" width="9.5" height="11.2" rx="0.8" fill="#000000"/>
<ellipse cx="177.46" cy="1460.9" rx="5.4" ry="6.5" fill="#ff0000"/>
<ellipse cx="368.72" cy="1322.1" rx="5.4" ry="6.5" fill="#ff0000"/>
<ellipse cx="559.98" cy="1198" rx="5.4" ry="6.5" fill="#ff0000"/>
<ellipse cx="751.24" cy="1077.6" rx="5.4" ry="6.5" fill="#ff0000"/>
<polygon points="177.46,1460.7 184.71,1475.7 170.21,1475.7" fill="#00ff00"/>
<polygon points="368.72,1321.6 375.97,1336.6 361.47,1336.6" fill="#00ff00"/>
<polygon points="559.98,1200.2 567.23,1215.2 552.73,1215.2" fill="#00ff00"/>
<polygon points="751.24,1079.4 758.49,1094.4 743.99,1094.4" fill="#00ff00"/>
<polygon points="178.06,1470.1 185.56,1479.6 178.06,1489.1 170.56,1479.6" fill="#0000ff"/>
<polygon points="369.32,1330.2 376.82,1339.7 369.32,1349.2 361.82,1339.7" fill="#0000ff"/>
<polygon points="560.58,1209.1 568.08,1218.6 560.58,1228.1 553.08,1218.6" fill="#0000ff"/>
<polygon points="751.84,1085.4 759.34,1094.9 751.84,1104.4 744.34,1094.9" fill="#0000ff"/>
<polygon points="174.29,1475.5 186.79,1484.5 174.29,1493.5" fill="#00ffff"/>
<polygon points="365.55,1338.2 378.05,1347.2 365.55,1356.2" fill="#00ffff"/>
<polygon points="556.81,1217.5 569.31,1226.5 556.81,1235.5" fill="#00ffff"/>
<polygon points="748.08,1093.1 760.58,1102.1 748.08,1111.1" fill="#00ffff"/>
<polygon points="178.06,1483.42 180,1489.26 185.04,1489.76 181.2,1493.88 182.37,1500.02 178.06,1496.73 173.74,1500.02 174.91,1493.88 171.07,1489.76 176.11,1489.26" fill="#ff00ff"/>
<polygon points="369.32,1343.02 371.26,1348.86 376.3,1349.36 372.46,1353.48 373.63,1359.62 369.32,1356.33 365,1359.62 366.18,1353.48 362.34,1349.36 367.38,1348.86" fill="#ff00ff"/>
<polygon points="560.58,1223.92 562.52,1229.76 567.56,1230.26 563.72,1234.38 564.9,1240.52 560.58,1237.23 556.27,1240.52 557.44,1234.38 553.6,1230.26 558.64,1229.76" fill="#ff00ff"/>
<polygon points="751.84,1097.72 753.79,1103.56 758.83,1104.06 754.99,1108.18 756.16,1114.32 751.84,1111.03 747.53,1114.32 748.7,1108.18 744.86,1104.06 749.9,1103.56" fill="#ff00ff"/>
<line x1="104.5" y1="908.3" x2="171.61" y2="908.3" stroke="#000000" stroke-width="2"/><rect x="131.06" y="899.35" width="12.2" height="15.3" rx="0.8" fill="#000000"/><text transform="translate(171.11 919.5) scale(0.7837 1)" font-family='"Liberation Serif", serif' font-size="33.5" font-weight="bold" text-anchor="start">B0</text>
<line x1="208.26" y1="908.3" x2="275.37" y2="908.3" stroke="#ff0000" stroke-width="2"/><ellipse cx="240.92" cy="907" rx="7.1" ry="8.8" fill="#ff0000"/><text transform="translate(280.74 919.5) scale(0.7837 1)" font-family='"Liberation Serif", serif' font-size="33.5" font-weight="bold" text-anchor="start">LA20</text>
<line x1="349.65" y1="908.3" x2="416.77" y2="908.3" stroke="#00ff00" stroke-width="2"/><polygon points="383.21,895.23 392.71,914.83 373.71,914.83" fill="#00ff00"/><text transform="translate(422.44 919.5) scale(0.7837 1)" font-family='"Liberation Serif", serif' font-size="33.5" font-weight="bold" text-anchor="start">LA40</text>
<line x1="104.5" y1="948.9" x2="171.61" y2="948.9" stroke="#0000ff" stroke-width="2"/><polygon points="138.06,936.5 147.86,948.9 138.06,961.3 128.26,948.9" fill="#0000ff"/><text transform="translate(171.11 960.1) scale(0.7837 1)" font-family='"Liberation Serif", serif' font-size="33.5" font-weight="bold" text-anchor="start">LA60</text>
<line x1="239.92" y1="948.9" x2="307.04" y2="948.9" stroke="#00ffff" stroke-width="2"/><polygon points="268.15,937.4 284.15,948.9 268.15,960.4" fill="#00ffff"/><text transform="translate(312.31 960.1) scale(0.7837 1)" font-family='"Liberation Serif", serif' font-size="33.5" font-weight="bold" text-anchor="start">LA80</text>
<line x1="381.42" y1="948.9" x2="448.53" y2="948.9" stroke="#ff00ff" stroke-width="2"/><polygon points="414.98,937.27 417.48,944.79 423.98,945.44 419.03,950.75 420.54,958.67 414.98,954.42 409.41,958.67 410.93,950.75 405.98,945.44 412.47,944.79" fill="#ff00ff"/><text transform="translate(454.3 960.1) scale(0.7837 1)" font-family='"Liberation Serif", serif' font-size="33.5" font-weight="bold" text-anchor="start">LA100</text>
<text transform="translate(104.2 1006.5) scale(0.7742 1)" font-family='"Liberation Serif", serif' font-size="33.5" font-weight="bold" text-anchor="start">Injection timing:23</text>
<text transform="translate(317.5 991) scale(0.8361 1)" font-family='"Liberation Serif", serif' font-size="20.5" font-weight="bold" text-anchor="start">0</text>
<text transform="translate(330.4 1006.5) scale(0.7742 1)" font-family='"Liberation Serif", serif' font-size="33.5" font-weight="bold" text-anchor="start">bTDC, Speed:1500 rpm, CR:17.5</text>
<text x="209.6" y="1719.1" font-family='"Liberation Serif", serif' font-size="38.2">(c) Injection timing 23º bTDC.</text>
</g>
<g id="chart-d">
<rect x="943.9" y="885.6" width="723" height="678.6" fill="none" stroke="#000" stroke-width="2.7" stroke-linejoin="round"/>
<line x1="933.4" y1="1512" x2="943.9" y2="1512" stroke="#000" stroke-width="2.6"/><text transform="translate(925.87 1519.1) scale(0.7647 1)" font-family='"Liberation Sans", sans-serif' font-size="27.9" text-anchor="end">150</text>
<line x1="933.4" y1="1407.6" x2="943.9" y2="1407.6" stroke="#000" stroke-width="2.6"/><text transform="translate(925.87 1414.7) scale(0.7647 1)" font-family='"Liberation Sans", sans-serif' font-size="27.9" text-anchor="end">200</text>
<line x1="933.4" y1="1303.2" x2="943.9" y2="1303.2" stroke="#000" stroke-width="2.6"/><text transform="translate(925.87 1310.3) scale(0.7647 1)" font-family='"Liberation Sans", sans-serif' font-size="27.9" text-anchor="end">250</text>
<line x1="933.4" y1="1198.8" x2="943.9" y2="1198.8" stroke="#000" stroke-width="2.6"/><text transform="translate(925.87 1205.9) scale(0.7647 1)" font-family='"Liberation Sans", sans-serif' font-size="27.9" text-anchor="end">300</text>
<line x1="933.4" y1="1094.4" x2="943.9" y2="1094.4" stroke="#000" stroke-width="2.6"/><text transform="translate(925.87 1101.5) scale(0.7647 1)" font-family='"Liberation Sans", sans-serif' font-size="27.9" text-anchor="end">350</text>
<line x1="933.4" y1="990" x2="943.9" y2="990" stroke="#000" stroke-width="2.6"/><text transform="translate(925.87 997.1) scale(0.7647 1)" font-family='"Liberation Sans", sans-serif' font-size="27.9" text-anchor="end">400</text>
<line x1="933.4" y1="885.6" x2="943.9" y2="885.6" stroke="#000" stroke-width="2.6"/><text transform="translate(925.87 892.7) scale(0.7647 1)" font-family='"Liberation Sans", sans-serif' font-size="27.9" text-anchor="end">450</text>
<line x1="1020.01" y1="1564.2" x2="1020.01" y2="1577.7" stroke="#000" stroke-width="2.4"/><text transform="translate(1020.01 1608.7) scale(0.7647 1)" font-family='"Liberation Sans", sans-serif' font-size="27.9" text-anchor="middle">25</text>
<line x1="1210.27" y1="1564.2" x2="1210.27" y2="1577.7" stroke="#000" stroke-width="2.4"/><text transform="translate(1210.27 1608.7) scale(0.7647 1)" font-family='"Liberation Sans", sans-serif' font-size="27.9" text-anchor="middle">50</text>
<line x1="1400.53" y1="1564.2" x2="1400.53" y2="1577.7" stroke="#000" stroke-width="2.4"/><text transform="translate(1400.53 1608.7) scale(0.7647 1)" font-family='"Liberation Sans", sans-serif' font-size="27.9" text-anchor="middle">75</text>
<line x1="1590.79" y1="1564.2" x2="1590.79" y2="1577.7" stroke="#000" stroke-width="2.4"/><text transform="translate(1590.79 1608.7) scale(0.7647 1)" font-family='"Liberation Sans", sans-serif' font-size="27.9" text-anchor="middle">100</text>
<text transform="translate(1305.4 1661.8) scale(0.7796 1)" font-family='"Liberation Serif", serif' font-size="33.5" font-weight="bold" text-anchor="middle">Load, %</text>
<text transform="translate(871.3 1463.2) rotate(-90) scale(1 0.8850)" font-family='"Liberation Serif", serif' font-size="31.8" font-weight="bold" letter-spacing="0.55" word-spacing="-0.6">Exhaust gas temperature, (<tspan font-size="19.08" dy="-14.63">0</tspan><tspan dy="14.63">C)</tspan></text>
<polyline points="1028.06,1432.93 1038.83,1424.38 1049.61,1415.85 1060.39,1407.34 1071.17,1398.86 1081.95,1390.43 1092.73,1382.05 1103.51,1373.72 1114.29,1365.47 1125.07,1357.29 1135.84,1349.19 1146.62,1341.19 1157.4,1333.29 1168.18,1325.51 1178.96,1317.84 1189.74,1310.3 1200.52,1302.9" fill="none" stroke="#000000" stroke-width="1.7"/>
<polyline points="1218.32,1291 1229.1,1283.99 1239.88,1277.1 1250.66,1270.32 1261.43,1263.64 1272.21,1257.04 1282.99,1250.5 1293.77,1244.02 1304.55,1237.58 1315.33,1231.16 1326.11,1224.74 1336.89,1218.32 1347.67,1211.88 1358.44,1205.4 1369.22,1198.87 1380,1192.27 1390.78,1185.59" fill="none" stroke="#000000" stroke-width="1.7"/>
<polyline points="1408.58,1174.34 1419.36,1167.39 1430.14,1160.34 1440.92,1153.21 1451.7,1145.98 1462.48,1138.68 1473.26,1131.31 1484.03,1123.87 1494.81,1116.37 1505.59,1108.81 1516.37,1101.21 1527.15,1093.56 1537.93,1085.88 1548.71,1078.17 1559.49,1070.43 1570.27,1062.68 1581.04,1054.91" fill="none" stroke="#000000" stroke-width="1.7"/>
<polyline points="1028.06,1452.16 1038.83,1443.88 1049.61,1435.6 1060.39,1427.35 1071.17,1419.11 1081.95,1410.89 1092.73,1402.7 1103.51,1394.55 1114.29,1386.44 1125.07,1378.37 1135.84,1370.35 1146.62,1362.38 1157.4,1354.47 1168.18,1346.63 1178.96,1338.85 1189.74,1331.15 1200.52,1323.53" fill="none" stroke="#ff0000" stroke-width="1.7"/>
<polyline points="1218.32,1311.13 1229.1,1303.73 1239.88,1296.41 1250.66,1289.16 1261.43,1281.99 1272.21,1274.87 1282.99,1267.81 1293.77,1260.81 1304.55,1253.85 1315.33,1246.94 1326.11,1240.06 1336.89,1233.21 1347.67,1226.39 1358.44,1219.6 1369.22,1212.82 1380,1206.05 1390.78,1199.28" fill="none" stroke="#ff0000" stroke-width="1.7"/>
<polyline points="1408.58,1188.12 1419.36,1181.35 1430.14,1174.58 1440.92,1167.81 1451.7,1161.03 1462.48,1154.26 1473.26,1147.48 1484.03,1140.7 1494.81,1133.91 1505.59,1127.13 1516.37,1120.34 1527.15,1113.55 1537.93,1106.77 1548.71,1099.98 1559.49,1093.19 1570.27,1086.4 1581.04,1079.61" fill="none" stroke="#ff0000" stroke-width="1.7"/>
<polyline points="1028.06,1459.25 1038.83,1451.2 1049.61,1443.16 1060.39,1435.13 1071.17,1427.11 1081.95,1419.11 1092.73,1411.13 1103.51,1403.17 1114.29,1395.24 1125.07,1387.34 1135.84,1379.48 1146.62,1371.65 1157.4,1363.87 1168.18,1356.13 1178.96,1348.44 1189.74,1340.8 1200.52,1333.22" fill="none" stroke="#00ff00" stroke-width="1.7"/>
<polyline points="1218.32,1320.83 1229.1,1313.4 1239.88,1306.04 1250.66,1298.73 1261.43,1291.47 1272.21,1284.27 1282.99,1277.11 1293.77,1270.01 1304.55,1262.94 1315.33,1255.92 1326.11,1248.94 1336.89,1242 1347.67,1235.09 1358.44,1228.22 1369.22,1221.38 1380,1214.57 1390.78,1207.78" fill="none" stroke="#00ff00" stroke-width="1.7"/>
<polyline points="1408.58,1196.63 1419.36,1189.91 1430.14,1183.21 1440.92,1176.52 1451.7,1169.86 1462.48,1163.21 1473.26,1156.58 1484.03,1149.96 1494.81,1143.35 1505.59,1136.76 1516.37,1130.17 1527.15,1123.6 1537.93,1117.03 1548.71,1110.47 1559.49,1103.91 1570.27,1097.36 1581.04,1090.81" fill="none" stroke="#00ff00" stroke-width="1.7"/>
<polyline points="1028.06,1467.23 1038.83,1459.03 1049.61,1450.84 1060.39,1442.66 1071.17,1434.5 1081.95,1426.37 1092.73,1418.28 1103.51,1410.21 1114.29,1402.19 1125.07,1394.21 1135.84,1386.29 1146.62,1378.42 1157.4,1370.62 1168.18,1362.88 1178.96,1355.22 1189.74,1347.63 1200.52,1340.13" fill="none" stroke="#0000ff" stroke-width="1.7"/>
<polyline points="1218.32,1327.93 1229.1,1320.67 1239.88,1313.48 1250.66,1306.37 1261.43,1299.33 1272.21,1292.35 1282.99,1285.42 1293.77,1278.55 1304.55,1271.72 1315.33,1264.92 1326.11,1258.16 1336.89,1251.42 1347.67,1244.7 1358.44,1237.98 1369.22,1231.28 1380,1224.57 1390.78,1217.86" fill="none" stroke="#0000ff" stroke-width="1.7"/>
<polyline points="1408.58,1206.73 1419.36,1199.97 1430.14,1193.2 1440.92,1186.4 1451.7,1179.59 1462.48,1172.77 1473.26,1165.93 1484.03,1159.09 1494.81,1152.23 1505.59,1145.36 1516.37,1138.48 1527.15,1131.6 1537.93,1124.71 1548.71,1117.81 1559.49,1110.91 1570.27,1104.01 1581.04,1097.1" fill="none" stroke="#0000ff" stroke-width="1.7"/>
<polyline points="1028.06,1474.15 1038.83,1466.1 1049.61,1458.06 1060.39,1450.04 1071.17,1442.03 1081.95,1434.04 1092.73,1426.09 1103.51,1418.16 1114.29,1410.27 1125.07,1402.43 1135.84,1394.63 1146.62,1386.88 1157.4,1379.18 1168.18,1371.55 1178.96,1363.99 1189.74,1356.49 1200.52,1349.07" fill="none" stroke="#00ffff" stroke-width="1.7"/>
<polyline points="1218.32,1336.99 1229.1,1329.78 1239.88,1322.64 1250.66,1315.57 1261.43,1308.55 1272.21,1301.59 1282.99,1294.67 1293.77,1287.79 1304.55,1280.94 1315.33,1274.12 1326.11,1267.32 1336.89,1260.53 1347.67,1253.75 1358.44,1246.97 1369.22,1240.18 1380,1233.38 1390.78,1226.55" fill="none" stroke="#00ffff" stroke-width="1.7"/>
<polyline points="1408.58,1215.23 1419.36,1208.33 1430.14,1201.4 1440.92,1194.44 1451.7,1187.46 1462.48,1180.46 1473.26,1173.43 1484.03,1166.39 1494.81,1159.32 1505.59,1152.24 1516.37,1145.15 1527.15,1138.05 1537.93,1130.93 1548.71,1123.8 1559.49,1116.67 1570.27,1109.54 1581.04,1102.4" fill="none" stroke="#00ffff" stroke-width="1.7"/>
<polyline points="1028.06,1480.37 1038.83,1472.1 1049.61,1463.85 1060.39,1455.61 1071.17,1447.4 1081.95,1439.23 1092.73,1431.1 1103.51,1423.02 1114.29,1414.99 1125.07,1407.03 1135.84,1399.14 1146.62,1391.32 1157.4,1383.59 1168.18,1375.95 1178.96,1368.41 1189.74,1360.98 1200.52,1353.65" fill="none" stroke="#ff00ff" stroke-width="1.7"/>
<polyline points="1218.32,1341.83 1229.1,1334.83 1239.88,1327.93 1250.66,1321.12 1261.43,1314.39 1272.21,1307.74 1282.99,1301.14 1293.77,1294.58 1304.55,1288.06 1315.33,1281.56 1326.11,1275.07 1336.89,1268.58 1347.67,1262.07 1358.44,1255.54 1369.22,1248.97 1380,1242.35 1390.78,1235.67" fill="none" stroke="#ff00ff" stroke-width="1.7"/>
<polyline points="1408.58,1224.47 1419.36,1217.59 1430.14,1210.63 1440.92,1203.6 1451.7,1196.5 1462.48,1189.35 1473.26,1182.14 1484.03,1174.88 1494.81,1167.57 1505.59,1160.22 1516.37,1152.83 1527.15,1145.41 1537.93,1137.97 1548.71,1130.5 1559.49,1123.01 1570.27,1115.51 1581.04,1108" fill="none" stroke="#ff00ff" stroke-width="1.7"/>
<rect x="1014.41" y="1432.3" width="9.5" height="11.2" rx="0.8" fill="#000000"/>
<rect x="1204.67" y="1289.4" width="9.5" height="11.2" rx="0.8" fill="#000000"/>
<rect x="1394.93" y="1172.9" width="9.5" height="11.2" rx="0.8" fill="#000000"/>
<rect x="1585.19" y="1040.5" width="9.5" height="11.2" rx="0.8" fill="#000000"/>
<ellipse cx="1019.16" cy="1456.6" rx="5.4" ry="6.5" fill="#ff0000"/>
<ellipse cx="1209.42" cy="1315.2" rx="5.4" ry="6.5" fill="#ff0000"/>
<ellipse cx="1399.68" cy="1192.1" rx="5.4" ry="6.5" fill="#ff0000"/>
<ellipse cx="1589.94" cy="1072.5" rx="5.4" ry="6.5" fill="#ff0000"/>
<polygon points="1019.16,1455.1 1026.41,1470.1 1011.91,1470.1" fill="#00ff00"/>
<polygon points="1209.42,1316.2 1216.67,1331.2 1202.17,1331.2" fill="#00ff00"/>
<polygon points="1399.68,1191.6 1406.93,1206.6 1392.43,1206.6" fill="#00ff00"/>
<polygon points="1589.94,1075.1 1597.19,1090.1 1582.69,1090.1" fill="#00ff00"/>
<polygon points="1019.76,1464.1 1027.26,1473.6 1019.76,1483.1 1012.26,1473.6" fill="#0000ff"/>
<polygon points="1210.02,1323.7 1217.52,1333.2 1210.02,1342.7 1202.52,1333.2" fill="#0000ff"/>
<polygon points="1400.28,1202.3 1407.78,1211.8 1400.28,1221.3 1392.78,1211.8" fill="#0000ff"/>
<polygon points="1590.54,1081.7 1598.04,1091.2 1590.54,1100.7 1583.04,1091.2" fill="#0000ff"/>
<polygon points="1015.99,1471.3 1028.49,1480.3 1015.99,1489.3" fill="#00ffff"/>
<polygon points="1206.25,1333.5 1218.75,1342.5 1206.25,1351.5" fill="#00ffff"/>
<polygon points="1396.51,1211.4 1409.01,1220.4 1396.51,1229.4" fill="#00ffff"/>
<polygon points="1586.78,1087 1599.28,1096 1586.78,1105" fill="#00ffff"/>
<polygon points="1019.76,1477.52 1021.7,1483.36 1026.74,1483.86 1022.9,1487.98 1024.07,1494.12 1019.76,1490.83 1015.44,1494.12 1016.61,1487.98 1012.77,1483.86 1017.81,1483.36" fill="#ff00ff"/>
<polygon points="1210.02,1338.72 1211.96,1344.56 1217,1345.06 1213.16,1349.18 1214.33,1355.32 1210.02,1352.03 1205.7,1355.32 1206.88,1349.18 1203.04,1345.06 1208.08,1344.56" fill="#ff00ff"/>
<polygon points="1400.28,1220.82 1402.22,1226.66 1407.26,1227.16 1403.42,1231.28 1404.6,1237.42 1400.28,1234.13 1395.97,1237.42 1397.14,1231.28 1393.3,1227.16 1398.34,1226.66" fill="#ff00ff"/>
<polygon points="1590.54,1092.32 1592.49,1098.16 1597.53,1098.66 1593.69,1102.78 1594.86,1108.92 1590.54,1105.63 1586.23,1108.92 1587.4,1102.78 1583.56,1098.66 1588.6,1098.16" fill="#ff00ff"/>
<line x1="946.6" y1="910.8" x2="1013.36" y2="910.8" stroke="#000000" stroke-width="2"/><rect x="972.99" y="901.85" width="12.2" height="15.3" rx="0.8" fill="#000000"/><text transform="translate(1012.86 922) scale(0.7796 1)" font-family='"Liberation Serif", serif' font-size="33.5" font-weight="bold" text-anchor="start">B0</text>
<line x1="1049.81" y1="910.8" x2="1116.58" y2="910.8" stroke="#ff0000" stroke-width="2"/><ellipse cx="1082.3" cy="909.5" rx="7.1" ry="8.8" fill="#ff0000"/><text transform="translate(1121.92 922) scale(0.7796 1)" font-family='"Liberation Serif", serif' font-size="33.5" font-weight="bold" text-anchor="start">LA20</text>
<line x1="1190.47" y1="910.8" x2="1257.24" y2="910.8" stroke="#00ff00" stroke-width="2"/><polygon points="1223.85,897.73 1233.35,917.33 1214.35,917.33" fill="#00ff00"/><text transform="translate(1262.87 922) scale(0.7796 1)" font-family='"Liberation Serif", serif' font-size="33.5" font-weight="bold" text-anchor="start">LA40</text>
<line x1="946.6" y1="951.3" x2="1013.36" y2="951.3" stroke="#0000ff" stroke-width="2"/><polygon points="979.98,938.9 989.78,951.3 979.98,963.7 970.18,951.3" fill="#0000ff"/><text transform="translate(1012.86 962.5) scale(0.7796 1)" font-family='"Liberation Serif", serif' font-size="33.5" font-weight="bold" text-anchor="start">LA60</text>
<line x1="1081.31" y1="951.3" x2="1148.08" y2="951.3" stroke="#00ffff" stroke-width="2"/><polygon points="1109.36,939.8 1125.36,951.3 1109.36,962.8" fill="#00ffff"/><text transform="translate(1153.32 962.5) scale(0.7796 1)" font-family='"Liberation Serif", serif' font-size="33.5" font-weight="bold" text-anchor="start">LA80</text>
<line x1="1222.07" y1="951.3" x2="1288.83" y2="951.3" stroke="#ff00ff" stroke-width="2"/><polygon points="1255.45,939.67 1257.96,947.19 1264.45,947.84 1259.5,953.15 1261.02,961.07 1255.45,956.82 1249.89,961.07 1251.4,953.15 1246.45,947.84 1252.95,947.19" fill="#ff00ff"/><text transform="translate(1294.57 962.5) scale(0.7796 1)" font-family='"Liberation Serif", serif' font-size="33.5" font-weight="bold" text-anchor="start">LA100</text>
<text transform="translate(946.7 1008.8) scale(0.7702 1)" font-family='"Liberation Serif", serif' font-size="33.5" font-weight="bold" text-anchor="start">Injection timing:25</text>
<text transform="translate(1158.7 993.3) scale(0.8318 1)" font-family='"Liberation Serif", serif' font-size="20.5" font-weight="bold" text-anchor="start">0</text>
<text transform="translate(1170.4 1008.8) scale(0.7702 1)" font-family='"Liberation Serif", serif' font-size="33.5" font-weight="bold" text-anchor="start">bTDC, Speed:1500 rpm, CR:17.5</text>
<text x="1031" y="1718.9" font-family='"Liberation Serif", serif' font-size="38.2">(d) Injection timing 25º bTDC</text>
</g>
<g id="chart-e">
<rect x="534.3" y="1754.3" width="730" height="679.5" fill="none" stroke="#000" stroke-width="2.7" stroke-linejoin="round"/>
<line x1="523.8" y1="2381.53" x2="534.3" y2="2381.53" stroke="#000" stroke-width="2.6"/><text transform="translate(516.1 2388.63) scale(0.7721 1)" font-family='"Liberation Sans", sans-serif' font-size="27.9" text-anchor="end">150</text>
<line x1="523.8" y1="2276.99" x2="534.3" y2="2276.99" stroke="#000" stroke-width="2.6"/><text transform="translate(516.1 2284.09) scale(0.7721 1)" font-family='"Liberation Sans", sans-serif' font-size="27.9" text-anchor="end">200</text>
<line x1="523.8" y1="2172.45" x2="534.3" y2="2172.45" stroke="#000" stroke-width="2.6"/><text transform="translate(516.1 2179.55) scale(0.7721 1)" font-family='"Liberation Sans", sans-serif' font-size="27.9" text-anchor="end">250</text>
<line x1="523.8" y1="2067.92" x2="534.3" y2="2067.92" stroke="#000" stroke-width="2.6"/><text transform="translate(516.1 2075.02) scale(0.7721 1)" font-family='"Liberation Sans", sans-serif' font-size="27.9" text-anchor="end">300</text>
<line x1="523.8" y1="1963.38" x2="534.3" y2="1963.38" stroke="#000" stroke-width="2.6"/><text transform="translate(516.1 1970.48) scale(0.7721 1)" font-family='"Liberation Sans", sans-serif' font-size="27.9" text-anchor="end">350</text>
<line x1="523.8" y1="1858.84" x2="534.3" y2="1858.84" stroke="#000" stroke-width="2.6"/><text transform="translate(516.1 1865.94) scale(0.7721 1)" font-family='"Liberation Sans", sans-serif' font-size="27.9" text-anchor="end">400</text>
<line x1="523.8" y1="1754.3" x2="534.3" y2="1754.3" stroke="#000" stroke-width="2.6"/><text transform="translate(516.1 1761.4) scale(0.7721 1)" font-family='"Liberation Sans", sans-serif' font-size="27.9" text-anchor="end">450</text>
<line x1="611.14" y1="2433.8" x2="611.14" y2="2447.3" stroke="#000" stroke-width="2.4"/><text transform="translate(611.14 2478.3) scale(0.7721 1)" font-family='"Liberation Sans", sans-serif' font-size="27.9" text-anchor="middle">25</text>
<line x1="803.25" y1="2433.8" x2="803.25" y2="2447.3" stroke="#000" stroke-width="2.4"/><text transform="translate(803.25 2478.3) scale(0.7721 1)" font-family='"Liberation Sans", sans-serif' font-size="27.9" text-anchor="middle">50</text>
<line x1="995.35" y1="2433.8" x2="995.35" y2="2447.3" stroke="#000" stroke-width="2.4"/><text transform="translate(995.35 2478.3) scale(0.7721 1)" font-family='"Liberation Sans", sans-serif' font-size="27.9" text-anchor="middle">75</text>
<line x1="1187.46" y1="2433.8" x2="1187.46" y2="2447.3" stroke="#000" stroke-width="2.4"/><text transform="translate(1187.46 2478.3) scale(0.7721 1)" font-family='"Liberation Sans", sans-serif' font-size="27.9" text-anchor="middle">100</text>
<text transform="translate(899.3 2531.4) scale(0.7871 1)" font-family='"Liberation Serif", serif' font-size="33.5" font-weight="bold" text-anchor="middle">Load, %</text>
<text transform="translate(461.7 2331.9) rotate(-90) scale(1 0.8850)" font-family='"Liberation Serif", serif' font-size="31.8" font-weight="bold" letter-spacing="0.55" word-spacing="-0.6">Exhaust gas temperature, (<tspan font-size="19.08" dy="-14.63">0</tspan><tspan dy="14.63">C)</tspan></text>
<polyline points="619.19,2291.84 630.09,2283.34 640.98,2274.84 651.87,2266.37 662.77,2257.94 673.66,2249.54 684.56,2241.19 695.45,2232.9 706.34,2224.68 717.24,2216.53 728.13,2208.46 739.03,2200.48 749.92,2192.6 760.82,2184.83 771.71,2177.17 782.6,2169.64 793.5,2162.24" fill="none" stroke="#000000" stroke-width="1.7"/>
<polyline points="811.3,2150.46 822.19,2143.42 833.09,2136.51 843.98,2129.71 854.87,2122.99 865.77,2116.35 876.66,2109.77 887.56,2103.23 898.45,2096.72 909.34,2090.22 920.24,2083.72 931.13,2077.21 942.03,2070.66 952.92,2064.07 963.81,2057.41 974.71,2050.68 985.6,2043.86" fill="none" stroke="#000000" stroke-width="1.7"/>
<polyline points="1003.4,2032.47 1014.3,2025.34 1025.19,2018.11 1036.08,2010.78 1046.98,2003.35 1057.87,1995.84 1068.77,1988.24 1079.66,1980.58 1090.56,1972.84 1101.45,1965.04 1112.34,1957.19 1123.24,1949.3 1134.13,1941.36 1145.03,1933.4 1155.92,1925.4 1166.81,1917.39 1177.71,1909.36" fill="none" stroke="#000000" stroke-width="1.7"/>
<polyline points="619.19,2313.44 630.09,2305.52 640.98,2297.62 651.87,2289.72 662.77,2281.82 673.66,2273.94 684.56,2266.07 695.45,2258.22 706.34,2250.39 717.24,2242.57 728.13,2234.77 739.03,2227 749.92,2219.26 760.82,2211.55 771.71,2203.86 782.6,2196.21 793.5,2188.59" fill="none" stroke="#ff0000" stroke-width="1.7"/>
<polyline points="811.3,2176.23 822.19,2168.72 833.09,2161.24 843.98,2153.81 854.87,2146.41 865.77,2139.05 876.66,2131.73 887.56,2124.45 898.45,2117.21 909.34,2110 920.24,2102.84 931.13,2095.71 942.03,2088.62 952.92,2081.57 963.81,2074.55 974.71,2067.58 985.6,2060.64" fill="none" stroke="#ff0000" stroke-width="1.7"/>
<polyline points="1003.4,2049.38 1014.3,2042.54 1025.19,2035.73 1036.08,2028.96 1046.98,2022.21 1057.87,2015.49 1068.77,2008.8 1079.66,2002.12 1090.56,1995.47 1101.45,1988.84 1112.34,1982.22 1123.24,1975.62 1134.13,1969.03 1145.03,1962.45 1155.92,1955.88 1166.81,1949.32 1177.71,1942.76" fill="none" stroke="#ff0000" stroke-width="1.7"/>
<polyline points="619.19,2318.9 630.09,2311.3 640.98,2303.71 651.87,2296.12 662.77,2288.53 673.66,2280.94 684.56,2273.36 695.45,2265.77 706.34,2258.19 717.24,2250.62 728.13,2243.05 739.03,2235.49 749.92,2227.93 760.82,2220.37 771.71,2212.82 782.6,2205.28 793.5,2197.75" fill="none" stroke="#00ff00" stroke-width="1.7"/>
<polyline points="811.3,2185.46 822.19,2177.95 833.09,2170.45 843.98,2162.97 854.87,2155.51 865.77,2148.07 876.66,2140.66 887.56,2133.28 898.45,2125.93 909.34,2118.61 920.24,2111.34 931.13,2104.1 942.03,2096.91 952.92,2089.77 963.81,2082.68 974.71,2075.64 985.6,2068.66" fill="none" stroke="#00ff00" stroke-width="1.7"/>
<polyline points="1003.4,2057.38 1014.3,2050.56 1025.19,2043.8 1036.08,2037.08 1046.98,2030.42 1057.87,2023.8 1068.77,2017.22 1079.66,2010.69 1090.56,2004.18 1101.45,1997.71 1112.34,1991.27 1123.24,1984.85 1134.13,1978.45 1145.03,1972.07 1155.92,1965.7 1166.81,1959.34 1177.71,1952.99" fill="none" stroke="#00ff00" stroke-width="1.7"/>
<polyline points="619.19,2328.6 630.09,2320.54 640.98,2312.47 651.87,2304.42 662.77,2296.39 673.66,2288.38 684.56,2280.39 695.45,2272.43 706.34,2264.5 717.24,2256.61 728.13,2248.76 739.03,2240.96 749.92,2233.21 760.82,2225.51 771.71,2217.87 782.6,2210.29 793.5,2202.78" fill="none" stroke="#0000ff" stroke-width="1.7"/>
<polyline points="811.3,2190.67 822.19,2183.34 833.09,2176.09 843.98,2168.9 854.87,2161.76 865.77,2154.68 876.66,2147.65 887.56,2140.66 898.45,2133.71 909.34,2126.8 920.24,2119.92 931.13,2113.07 942.03,2106.23 952.92,2099.42 963.81,2092.62 974.71,2085.83 985.6,2079.04" fill="none" stroke="#0000ff" stroke-width="1.7"/>
<polyline points="1003.4,2067.95 1014.3,2061.16 1025.19,2054.37 1036.08,2047.58 1046.98,2040.78 1057.87,2033.98 1068.77,2027.17 1079.66,2020.37 1090.56,2013.56 1101.45,2006.75 1112.34,1999.94 1123.24,1993.13 1134.13,1986.32 1145.03,1979.51 1155.92,1972.7 1166.81,1965.88 1177.71,1959.07" fill="none" stroke="#0000ff" stroke-width="1.7"/>
<polyline points="619.19,2336.84 630.09,2328.7 640.98,2320.56 651.87,2312.44 662.77,2304.34 673.66,2296.26 684.56,2288.21 695.45,2280.19 706.34,2272.21 717.24,2264.27 728.13,2256.39 739.03,2248.55 749.92,2240.78 760.82,2233.07 771.71,2225.42 782.6,2217.85 793.5,2210.36" fill="none" stroke="#00ffff" stroke-width="1.7"/>
<polyline points="811.3,2198.3 822.19,2191.02 833.09,2183.83 843.98,2176.7 854.87,2169.64 865.77,2162.63 876.66,2155.68 887.56,2148.78 898.45,2141.92 909.34,2135.09 920.24,2128.3 931.13,2121.52 942.03,2114.77 952.92,2108.03 963.81,2101.29 974.71,2094.56 985.6,2087.82" fill="none" stroke="#00ffff" stroke-width="1.7"/>
<polyline points="1003.4,2076.77 1014.3,2070 1025.19,2063.21 1036.08,2056.4 1046.98,2049.59 1057.87,2042.76 1068.77,2035.92 1079.66,2029.07 1090.56,2022.21 1101.45,2015.34 1112.34,2008.47 1123.24,2001.59 1134.13,1994.71 1145.03,1987.82 1155.92,1980.93 1166.81,1974.03 1177.71,1967.13" fill="none" stroke="#00ffff" stroke-width="1.7"/>
<polyline points="619.19,2345.52 630.09,2337.22 640.98,2328.94 651.87,2320.67 662.77,2312.42 673.66,2304.2 684.56,2296.01 695.45,2287.87 706.34,2279.77 717.24,2271.72 728.13,2263.72 739.03,2255.79 749.92,2247.93 760.82,2240.14 771.71,2232.43 782.6,2224.81 793.5,2217.28" fill="none" stroke="#ff00ff" stroke-width="1.7"/>
<polyline points="811.3,2205.19 822.19,2197.91 833.09,2190.72 843.98,2183.62 854.87,2176.58 865.77,2169.61 876.66,2162.7 887.56,2155.83 898.45,2149.01 909.34,2142.22 920.24,2135.45 931.13,2128.71 942.03,2121.97 952.92,2115.23 963.81,2108.49 974.71,2101.73 985.6,2094.96" fill="none" stroke="#ff00ff" stroke-width="1.7"/>
<polyline points="1003.4,2083.82 1014.3,2076.96 1025.19,2070.06 1036.08,2063.14 1046.98,2056.19 1057.87,2049.21 1068.77,2042.21 1079.66,2035.19 1090.56,2028.14 1101.45,2021.08 1112.34,2014 1123.24,2006.91 1134.13,1999.81 1145.03,1992.7 1155.92,1985.58 1166.81,1978.45 1177.71,1971.33" fill="none" stroke="#ff00ff" stroke-width="1.7"/>
<rect x="605.54" y="2291.3" width="9.5" height="11.2" rx="0.8" fill="#000000"/>
<rect x="797.65" y="2148.6" width="9.5" height="11.2" rx="0.8" fill="#000000"/>
<rect x="989.75" y="2030.7" width="9.5" height="11.2" rx="0.8" fill="#000000"/>
<rect x="1181.86" y="1895" width="9.5" height="11.2" rx="0.8" fill="#000000"/>
<ellipse cx="610.29" cy="2317.6" rx="5.4" ry="6.5" fill="#ff0000"/>
<ellipse cx="802.4" cy="2180.1" rx="5.4" ry="6.5" fill="#ff0000"/>
<ellipse cx="994.5" cy="2053.5" rx="5.4" ry="6.5" fill="#ff0000"/>
<ellipse cx="1186.61" cy="1935.1" rx="5.4" ry="6.5" fill="#ff0000"/>
<polygon points="610.29,2314.2 617.54,2329.2 603.04,2329.2" fill="#00ff00"/>
<polygon points="802.4,2180.9 809.65,2195.9 795.15,2195.9" fill="#00ff00"/>
<polygon points="994.5,2052.5 1001.75,2067.5 987.25,2067.5" fill="#00ff00"/>
<polygon points="1186.61,1937.2 1193.86,1952.2 1179.36,1952.2" fill="#00ff00"/>
<polygon points="610.89,2324.9 618.39,2334.4 610.89,2343.9 603.39,2334.4" fill="#0000ff"/>
<polygon points="803,2186.3 810.5,2195.8 803,2205.3 795.5,2195.8" fill="#0000ff"/>
<polygon points="995.1,2063.7 1002.6,2073.2 995.1,2082.7 987.6,2073.2" fill="#0000ff"/>
<polygon points="1187.21,1942.8 1194.71,1952.3 1187.21,1961.8 1179.71,1952.3" fill="#0000ff"/>
<polygon points="607.13,2334 619.63,2343 607.13,2352" fill="#00ffff"/>
<polygon points="799.23,2194.8 811.73,2203.8 799.23,2212.8" fill="#00ffff"/>
<polygon points="991.34,2072.8 1003.84,2081.8 991.34,2090.8" fill="#00ffff"/>
<polygon points="1183.44,1952 1195.94,1961 1183.44,1970" fill="#00ffff"/>
<polygon points="610.89,2343.42 612.83,2349.26 617.87,2349.76 614.03,2353.88 615.21,2360.02 610.89,2356.73 606.58,2360.02 607.75,2353.88 603.91,2349.76 608.95,2349.26" fill="#ff00ff"/>
<polygon points="803,2201.82 804.94,2207.66 809.98,2208.16 806.14,2212.28 807.31,2218.42 803,2215.13 798.68,2218.42 799.86,2212.28 796.02,2208.16 801.06,2207.66" fill="#ff00ff"/>
<polygon points="995.1,2080.12 997.04,2085.96 1002.08,2086.46 998.24,2090.58 999.42,2096.72 995.1,2093.43 990.79,2096.72 991.96,2090.58 988.12,2086.46 993.16,2085.96" fill="#ff00ff"/>
<polygon points="1187.21,1955.22 1189.15,1961.06 1194.19,1961.56 1190.35,1965.68 1191.52,1971.82 1187.21,1968.53 1182.89,1971.82 1184.07,1965.68 1180.23,1961.56 1185.27,1961.06" fill="#ff00ff"/>
<line x1="531.6" y1="1776.9" x2="599.01" y2="1776.9" stroke="#000000" stroke-width="2"/><rect x="558.3" y="1767.95" width="12.2" height="15.3" rx="0.8" fill="#000000"/><text transform="translate(598.51 1788.1) scale(0.7871 1)" font-family='"Liberation Serif", serif' font-size="33.5" font-weight="bold" text-anchor="start">B0</text>
<line x1="635.81" y1="1776.9" x2="703.22" y2="1776.9" stroke="#ff0000" stroke-width="2"/><ellipse cx="668.62" cy="1775.6" rx="7.1" ry="8.8" fill="#ff0000"/><text transform="translate(708.62 1788.1) scale(0.7871 1)" font-family='"Liberation Serif", serif' font-size="33.5" font-weight="bold" text-anchor="start">LA20</text>
<line x1="777.83" y1="1776.9" x2="845.24" y2="1776.9" stroke="#00ff00" stroke-width="2"/><polygon points="811.54,1763.83 821.04,1783.43 802.04,1783.43" fill="#00ff00"/><text transform="translate(850.94 1788.1) scale(0.7871 1)" font-family='"Liberation Serif", serif' font-size="33.5" font-weight="bold" text-anchor="start">LA40</text>
<line x1="531.6" y1="1817.9" x2="599.01" y2="1817.9" stroke="#0000ff" stroke-width="2"/><polygon points="565.3,1805.5 575.1,1817.9 565.3,1830.3 555.5,1817.9" fill="#0000ff"/><text transform="translate(598.51 1829.1) scale(0.7871 1)" font-family='"Liberation Serif", serif' font-size="33.5" font-weight="bold" text-anchor="start">LA60</text>
<line x1="667.62" y1="1817.9" x2="735.03" y2="1817.9" stroke="#00ffff" stroke-width="2"/><polygon points="695.99,1806.4 711.99,1817.9 695.99,1829.4" fill="#00ffff"/><text transform="translate(740.33 1829.1) scale(0.7871 1)" font-family='"Liberation Serif", serif' font-size="33.5" font-weight="bold" text-anchor="start">LA80</text>
<line x1="809.74" y1="1817.9" x2="877.15" y2="1817.9" stroke="#ff00ff" stroke-width="2"/><polygon points="843.44,1806.27 845.95,1813.79 852.44,1814.44 847.49,1819.75 849.01,1827.67 843.44,1823.42 837.88,1827.67 839.39,1819.75 834.44,1814.44 840.94,1813.79" fill="#ff00ff"/><text transform="translate(882.95 1829.1) scale(0.7871 1)" font-family='"Liberation Serif", serif' font-size="33.5" font-weight="bold" text-anchor="start">LA100</text>
<text transform="translate(531.9 1875.6) scale(0.7776 1)" font-family='"Liberation Serif", serif' font-size="33.5" font-weight="bold" text-anchor="start">Injection timing:27</text>
<text transform="translate(745.6 1860.1) scale(0.8398 1)" font-family='"Liberation Serif", serif' font-size="20.5" font-weight="bold" text-anchor="start">0</text>
<text transform="translate(757.3 1875.6) scale(0.7776 1)" font-family='"Liberation Serif", serif' font-size="33.5" font-weight="bold" text-anchor="start">bTDC, Speed:1500 rpm, CR:17.5</text>
<text x="621.1" y="2587.6" font-family='"Liberation Serif", serif' font-size="38.2">(e) Injection timing 27º bTDC</text>
</g>
</svg>
</body></html>
